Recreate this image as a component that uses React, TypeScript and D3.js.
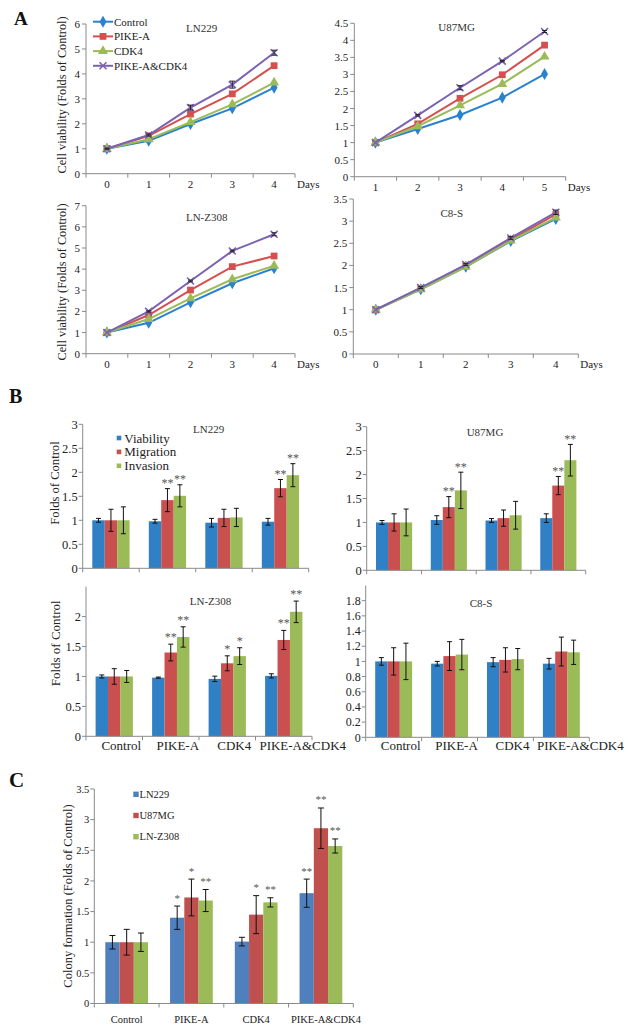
import React from 'react';
import * as d3 from 'd3';

const FONT = '"Liberation Serif","Times New Roman",serif';

// ---------- Panel A : cell viability time courses ----------
const daysA = ['0', '1', '2', '3', '4'];
const daysU87 = ['1', '2', '3', '4', '5'];
const lineSeriesNames = ['Control', 'PIKE-A', 'CDK4', 'PIKE-A&CDK4'];

const ln229Control = [1, 1.32, 1.99, 2.62, 3.45];
const ln229PikeA = [1, 1.52, 2.39, 3.2, 4.33];
const ln229CDK4 = [1, 1.38, 2.07, 2.78, 3.65];
const ln229Both = [1, 1.55, 2.65, 3.57, 4.85];
const ln229BothErr = [0.02, 0.04, 0.1, 0.14, 0.1];

const u87Control = [1, 1.4, 1.81, 2.32, 3.01];
const u87PikeA = [1, 1.55, 2.3, 2.99, 3.86];
const u87CDK4 = [1, 1.48, 2.09, 2.72, 3.52];
const u87Both = [1, 1.8, 2.61, 3.39, 4.26];
const u87BothErr = [0, 0.02, 0.06, 0.02, 0.03];

const lnzControl = [1, 1.46, 2.43, 3.33, 4.04];
const lnzPikeA = [1, 1.83, 3.01, 4.12, 4.62];
const lnzCDK4 = [1, 1.64, 2.62, 3.52, 4.16];
const lnzBoth = [1, 2.0, 3.44, 4.86, 5.65];
const lnzBothErr = [0, 0.03, 0.04, 0.04, 0.07];

const c8sControl = [1, 1.46, 1.97, 2.55, 3.05];
const c8sPikeA = [1, 1.48, 2.0, 2.58, 3.15];
const c8sCDK4 = [1, 1.46, 1.97, 2.56, 3.08];
const c8sBoth = [1, 1.5, 2.02, 2.62, 3.2];
const c8sBothErr = [0, 0.02, 0.02, 0.03, 0.05];

// ---------- Panel B : viability / migration / invasion ----------
const groupsB = ['Control', 'PIKE-A', 'CDK4', 'PIKE-A&CDK4'];
const measuresB = ['Viability', 'Migration', 'Invasion'];

const bLn229Viab = [1, 0.98, 0.95, 0.97];
const bLn229ViabErr = [0.04, 0.04, 0.09, 0.07];
const bLn229Migr = [1, 1.42, 1.05, 1.67];
const bLn229MigrErr = [0.23, 0.24, 0.18, 0.18];
const bLn229Inv = [1, 1.51, 1.06, 1.94];
const bLn229InvErr = [0.28, 0.23, 0.19, 0.24];
const bLn229MigrSig = ['', '**', '', '**'];
const bLn229InvSig = ['', '**', '', '**'];

const bU87Viab = [1, 1.05, 1.04, 1.09];
const bU87ViabErr = [0.04, 0.09, 0.04, 0.09];
const bU87Migr = [1, 1.32, 1.09, 1.77];
const bU87MigrErr = [0.18, 0.22, 0.17, 0.19];
const bU87Inv = [1, 1.67, 1.15, 2.3];
const bU87InvErr = [0.28, 0.38, 0.29, 0.33];
const bU87MigrSig = ['', '**', '', '**'];
const bU87InvSig = ['', '**', '', '**'];

const bLnzViab = [1, 0.98, 0.96, 1.01];
const bLnzViabErr = [0.025, 0.01, 0.045, 0.035];
const bLnzMigr = [1, 1.4, 1.22, 1.61];
const bLnzMigrErr = [0.13, 0.14, 0.125, 0.16];
const bLnzInv = [1, 1.66, 1.34, 2.08];
const bLnzInvErr = [0.1, 0.17, 0.14, 0.18];
const bLnzMigrSig = ['', '**', '*', '**'];
const bLnzInvSig = ['', '**', '*', '**'];

const bC8sViab = [1, 0.97, 0.99, 0.97];
const bC8sViabErr = [0.05, 0.03, 0.06, 0.07];
const bC8sMigr = [1, 1.07, 1.02, 1.13];
const bC8sMigrErr = [0.18, 0.19, 0.16, 0.19];
const bC8sInv = [1, 1.09, 1.03, 1.12];
const bC8sInvErr = [0.24, 0.2, 0.14, 0.16];

// ---------- Panel C : colony formation ----------
const cellLinesC = ['LN229', 'U87MG', 'LN-Z308'];
const cLn229 = [1, 1.4, 1.01, 1.8];
const cLn229Err = [0.11, 0.19, 0.07, 0.23];
const cLn229Sig = ['', '*', '', '**'];
const cU87 = [1, 1.73, 1.45, 2.86];
const cU87Err = [0.21, 0.3, 0.31, 0.33];
const cU87Sig = ['', '*', '*', '**'];
const cLnz = [1, 1.68, 1.65, 2.57];
const cLnzErr = [0.15, 0.18, 0.075, 0.115];
const cLnzSig = ['', '**', '**', '**'];

// ---------- styles ----------
const lineColors = ['#2a82cf', '#d54f4e', '#9bbb59', '#7c62b2'];
const barColorsB = ['#2f80c4', '#c9504e', '#9bbb59'];
const barColorsC = ['#4f7fbd', '#c0504d', '#9bbb59'];
const axisColor = '#8a8a8a';
const fmt = d3.format('~g');

function Marker({ kind, x, y, color }: { kind: number; x: number; y: number; color: string }) {
  if (kind === 0) {
    return <path d={d3.symbol(d3.symbolDiamond, 42)()!} transform={`translate(${x},${y})`} fill={color} />;
  }
  if (kind === 1) {
    return <path d={d3.symbol(d3.symbolSquare, 46)()!} transform={`translate(${x},${y})`} fill={color} />;
  }
  if (kind === 2) {
    return <path d={d3.symbol(d3.symbolTriangle, 44)()!} transform={`translate(${x},${y})`} fill={color} />;
  }
  return (
    <path
      d="M-3.5,-3.5L3.5,3.5M-3.5,3.5L3.5,-3.5"
      transform={`translate(${x},${y})`}
      stroke={color}
      strokeWidth={1.6}
      fill="none"
    />
  );
}

type LineCfg = {
  cats: string[];
  series: number[][];
  errs: (number[] | null)[];
  yMax: number;
  yStep: number;
  xa: number;
  xb: number;
  yZero: number;
  yTop: number;
  title: string;
  titleX: number;
  titleY: number;
  yLabel?: { x: number; y: number };
  legend?: boolean;
};

function LinePanel({ cfg }: { cfg: LineCfg }) {
  const x = d3.scaleBand<string>().domain(cfg.cats).range([cfg.xa, cfg.xb]);
  const y = d3.scaleLinear().domain([0, cfg.yMax]).range([cfg.yZero, cfg.yTop]);
  const cx = (i: number) => (x(cfg.cats[i]) as number) + x.bandwidth() / 2;
  const ticks = d3.range(0, cfg.yMax + 1e-9, cfg.yStep);
  const line = d3
    .line<number>()
    .x((_, i) => cx(i))
    .y((v) => y(v));
  const bounds = [...cfg.cats.map((c) => x(c) as number), cfg.xb];
  return (
    <g fontFamily={FONT}>
      <line x1={cfg.xa} x2={cfg.xa} y1={cfg.yZero} y2={cfg.yTop} stroke={axisColor} />
      <line x1={cfg.xa} x2={cfg.xb} y1={cfg.yZero} y2={cfg.yZero} stroke={axisColor} />
      {ticks.map((t) => (
        <g key={t}>
          <line x1={cfg.xa - 4} x2={cfg.xa} y1={y(t)} y2={y(t)} stroke={axisColor} />
          <text x={cfg.xa - 6} y={y(t) + 4} textAnchor="end" fontSize={11} fill="#222">
            {fmt(t)}
          </text>
        </g>
      ))}
      {bounds.map((b, i) => (
        <line key={i} x1={b} x2={b} y1={cfg.yZero} y2={cfg.yZero + 4} stroke={axisColor} />
      ))}
      {cfg.cats.map((c, i) => (
        <text key={c} x={cx(i)} y={cfg.yZero + 14} textAnchor="middle" fontSize={11} fill="#222">
          {c}
        </text>
      ))}
      <text x={cfg.xb + 2} y={cfg.yZero + 14} fontSize={11} fill="#222">
        Days
      </text>
      <text x={cfg.titleX} y={cfg.titleY + 4} textAnchor="middle" fontSize={11} fill="#333">
        {cfg.title}
      </text>
      {cfg.yLabel && (
        <text
          transform={`translate(${cfg.yLabel.x},${cfg.yLabel.y}) rotate(-90)`}
          textAnchor="middle"
          dominantBaseline="central"
          fontSize={12.3}
          fill="#222"
        >
          Cell viability (Folds of Control)
        </text>
      )}
      {cfg.series.map((s, si) => (
        <g key={si}>
          <path d={line(s)!} fill="none" stroke={lineColors[si]} strokeWidth={2} />
          {s.map((v, i) => (
            <Marker key={i} kind={si} x={cx(i)} y={y(v)} color={lineColors[si]} />
          ))}
          {cfg.errs[si] &&
            s.map((v, i) => {
              const e = (cfg.errs[si] as number[])[i];
              if (!e) return null;
              return (
                <g key={'e' + i} stroke="#222" strokeWidth={1}>
                  <line x1={cx(i)} x2={cx(i)} y1={y(v + e)} y2={y(v - e)} />
                  <line x1={cx(i) - 2.5} x2={cx(i) + 2.5} y1={y(v + e)} y2={y(v + e)} />
                  <line x1={cx(i) - 2.5} x2={cx(i) + 2.5} y1={y(v - e)} y2={y(v - e)} />
                </g>
              );
            })}
        </g>
      ))}
      {cfg.legend &&
        lineSeriesNames.map((n, i) => {
          const ly = 21.7 + i * 14.7;
          return (
            <g key={n}>
              <line x1={93} x2={113} y1={ly} y2={ly} stroke={lineColors[i]} strokeWidth={2} />
              <Marker kind={i} x={103} y={ly} color={lineColors[i]} />
              <text x={114} y={ly + 4} fontSize={11} fill="#222">
                {n}
              </text>
            </g>
          );
        })}
    </g>
  );
}

type BarSeries = { values: number[]; errs: number[]; sig?: string[]; color: string };
type BarCfg = {
  groups: string[];
  keys: string[];
  series: BarSeries[];
  yMax: number;
  yStep: number;
  tickMax: number;
  xa: number;
  xb: number;
  yZero: number;
  yTop: number;
  tickFont: number;
  catFont: number;
  showCats: boolean;
  catDx: number;
  lastCatDx: number;
  catY: number;
  starFont: number;
  starGap: number;
  cap: number;
  title?: { text: string; x: number; y: number };
  yLabel?: { text: string; x: number; y: number; size: number };
};

function BarPanel({ cfg }: { cfg: BarCfg }) {
  const x0 = d3.scaleBand<string>().domain(cfg.groups).range([cfg.xa, cfg.xb]).paddingInner(0.34).paddingOuter(0.17);
  const x1 = d3.scaleBand<string>().domain(cfg.keys).range([0, x0.bandwidth()]);
  const y = d3.scaleLinear().domain([0, cfg.yMax]).range([cfg.yZero, cfg.yTop]);
  const ticks = d3.range(0, cfg.tickMax + 1e-9, cfg.yStep);
  const step = (cfg.xb - cfg.xa) / cfg.groups.length;
  const bounds = d3.range(cfg.groups.length + 1).map((i) => cfg.xa + i * step);
  return (
    <g fontFamily={FONT}>
      {cfg.series.map((s, si) =>
        s.values.map((v, gi) => {
          const bx = (x0(cfg.groups[gi]) as number) + (x1(cfg.keys[si]) as number);
          return (
            <rect
              key={si + '-' + gi}
              x={bx}
              y={y(v)}
              width={x1.bandwidth()}
              height={cfg.yZero - y(v)}
              fill={s.color}
            />
          );
        })
      )}
      {cfg.series.map((s, si) =>
        s.values.map((v, gi) => {
          const c = (x0(cfg.groups[gi]) as number) + (x1(cfg.keys[si]) as number) + x1.bandwidth() / 2;
          const e = s.errs[gi];
          const top = y(v + e);
          return (
            <g key={'e' + si + '-' + gi}>
              <g stroke="#111" strokeWidth={1}>
                <line x1={c} x2={c} y1={top} y2={y(v - e)} />
                <line x1={c - cfg.cap} x2={c + cfg.cap} y1={top} y2={top} />
                <line x1={c - cfg.cap} x2={c + cfg.cap} y1={y(v - e)} y2={y(v - e)} />
              </g>
              {s.sig && s.sig[gi] && (
                <text
                  x={c}
                  y={top - cfg.starGap}
                  textAnchor="middle"
                  fontSize={cfg.starFont}
                  fill="#555"
                >
                  {s.sig[gi]}
                </text>
              )}
            </g>
          );
        })
      )}
      <line x1={cfg.xa} x2={cfg.xa} y1={cfg.yZero} y2={y(cfg.yMax)} stroke={axisColor} />
      <line x1={cfg.xa} x2={cfg.xb} y1={cfg.yZero} y2={cfg.yZero} stroke={axisColor} />
      {ticks.map((t) => (
        <g key={t}>
          <line x1={cfg.xa - 4} x2={cfg.xa} y1={y(t)} y2={y(t)} stroke={axisColor} />
          <text x={cfg.xa - 5} y={y(t) + cfg.tickFont * 0.35} textAnchor="end" fontSize={cfg.tickFont} fill="#222">
            {fmt(+t.toFixed(2))}
          </text>
        </g>
      ))}
      {bounds.map((b, i) => (
        <line key={i} x1={b} x2={b} y1={cfg.yZero} y2={cfg.yZero + 4} stroke={axisColor} />
      ))}
      {cfg.showCats &&
        cfg.groups.map((g, gi) => (
          <text
            key={g}
            x={
              (x0(g) as number) +
              x0.bandwidth() / 2 +
              cfg.catDx +
              (gi === cfg.groups.length - 1 ? cfg.lastCatDx : 0)
            }
            y={cfg.catY}
            textAnchor="middle"
            fontSize={cfg.catFont}
            fill="#222"
          >
            {g}
          </text>
        ))}
      {cfg.title && (
        <text x={cfg.title.x} y={cfg.title.y + 4} textAnchor="middle" fontSize={11} fill="#333">
          {cfg.title.text}
        </text>
      )}
      {cfg.yLabel && (
        <text
          transform={`translate(${cfg.yLabel.x},${cfg.yLabel.y}) rotate(-90)`}
          textAnchor="middle"
          dominantBaseline="central"
          fontSize={cfg.yLabel.size}
          fill="#222"
        >
          {cfg.yLabel.text}
        </text>
      )}
    </g>
  );
}

export default function App() {
  const A1: LineCfg = {
    cats: daysA,
    series: [ln229Control, ln229PikeA, ln229CDK4, ln229Both],
    errs: [null, null, null, ln229BothErr],
    yMax: 6, yStep: 1, xa: 86, xb: 295, yZero: 173.7, yTop: 24,
    title: 'LN229', titleX: 201.7, titleY: 28, yLabel: { x: 62, y: 95 }, legend: true,
  };
  const A2: LineCfg = {
    cats: daysU87,
    series: [u87Control, u87PikeA, u87CDK4, u87Both],
    errs: [null, null, null, u87BothErr],
    yMax: 4.5, yStep: 0.5, xa: 354.3, xb: 565.7, yZero: 176.7, yTop: 23.3,
    title: 'U87MG', titleX: 456.7, titleY: 26.7,
  };
  const A3: LineCfg = {
    cats: daysA,
    series: [lnzControl, lnzPikeA, lnzCDK4, lnzBoth],
    errs: [null, null, null, lnzBothErr],
    yMax: 7, yStep: 1, xa: 86, xb: 295, yZero: 353.7, yTop: 205.7,
    title: 'LN-Z308', titleX: 206.7, titleY: 216.7, yLabel: { x: 62, y: 282 },
  };
  const A4: LineCfg = {
    cats: daysA,
    series: [c8sControl, c8sPikeA, c8sCDK4, c8sBoth],
    errs: [null, null, null, c8sBothErr],
    yMax: 3.5, yStep: 0.5, xa: 353.3, xb: 578.3, yZero: 354, yTop: 199,
    title: 'C8-S', titleX: 451.7, titleY: 213.3,
  };

  const bCommon = {
    groups: groupsB, keys: measuresB, tickFont: 12.5, catFont: 13, catDx: 7, lastCatDx: 12, catY: 750,
    starFont: 12, starGap: 1.5, cap: 2.5,
  };
  const B1: BarCfg = {
    ...bCommon,
    series: [
      { values: bLn229Viab, errs: bLn229ViabErr, color: barColorsB[0] },
      { values: bLn229Migr, errs: bLn229MigrErr, sig: bLn229MigrSig, color: barColorsB[1] },
      { values: bLn229Inv, errs: bLn229InvErr, sig: bLn229InvSig, color: barColorsB[2] },
    ],
    yMax: 3, yStep: 0.5, tickMax: 3, xa: 82.7, xb: 308.7, yZero: 568.3, yTop: 424.3, showCats: false,
    title: { text: 'LN229', x: 208.7, y: 429.3 },
    yLabel: { text: 'Folds of Control', x: 55, y: 483, size: 12.6 },
  };
  const B2: BarCfg = {
    ...bCommon,
    series: [
      { values: bU87Viab, errs: bU87ViabErr, color: barColorsB[0] },
      { values: bU87Migr, errs: bU87MigrErr, sig: bU87MigrSig, color: barColorsB[1] },
      { values: bU87Inv, errs: bU87InvErr, sig: bU87InvSig, color: barColorsB[2] },
    ],
    yMax: 3, yStep: 0.5, tickMax: 3, xa: 366.7, xb: 585.7, yZero: 570.3, yTop: 426.7, showCats: false,
    title: { text: 'U87MG', x: 485, y: 431.7 },
  };
  const B3: BarCfg = {
    ...bCommon,
    series: [
      { values: bLnzViab, errs: bLnzViabErr, color: barColorsB[0] },
      { values: bLnzMigr, errs: bLnzMigrErr, sig: bLnzMigrSig, color: barColorsB[1] },
      { values: bLnzInv, errs: bLnzInvErr, sig: bLnzInvSig, color: barColorsB[2] },
    ],
    yMax: 2.5, yStep: 0.5, tickMax: 2, xa: 86, xb: 312, yZero: 736.3, yTop: 586.7, showCats: true,
    starGap: 3,
    title: { text: 'LN-Z308', x: 210.5, y: 600.7 },
    yLabel: { text: 'Folds of Control', x: 55, y: 643.3, size: 13 },
  };
  const B4: BarCfg = {
    ...bCommon,
    series: [
      { values: bC8sViab, errs: bC8sViabErr, color: barColorsB[0] },
      { values: bC8sMigr, errs: bC8sMigrErr, color: barColorsB[1] },
      { values: bC8sInv, errs: bC8sInvErr, color: barColorsB[2] },
    ],
    yMax: 2, yStep: 0.2, tickMax: 1.8, xa: 365.7, xb: 589.3, yZero: 737.3, yTop: 585.5, showCats: true,
    tickFont: 12,
    title: { text: 'C8-S', x: 481, y: 603.3 },
  };
  const C: BarCfg = {
    groups: groupsB, keys: cellLinesC, tickFont: 10.5, catFont: 10.5, catDx: 0, lastCatDx: 5, catY: 1022.5,
    starFont: 11, starGap: 4.5, cap: 3,
    series: [
      { values: cLn229, errs: cLn229Err, sig: cLn229Sig, color: barColorsC[0] },
      { values: cU87, errs: cU87Err, sig: cU87Sig, color: barColorsC[1] },
      { values: cLnz, errs: cLnzErr, sig: cLnzSig, color: barColorsC[2] },
    ],
    yMax: 3.5, yStep: 0.5, tickMax: 3.5, xa: 94.3, xb: 353.3, yZero: 1003.5, yTop: 789, showCats: true,
    yLabel: { text: 'Colony formation (Folds of Control)', x: 68, y: 896, size: 12.5 },
  };

  return (
    <svg
      width={632}
      height={1032}
      viewBox="0 0 632 1032"
      style={{ position: 'absolute', left: 0, top: 0, background: '#fff' }}
    >
      <rect x={0} y={0} width={632} height={1032} fill="#fff" />
      <g fontFamily={FONT} fontWeight="bold" fill="#111">
        <text x={14} y={25} fontSize={19}>A</text>
        <text x={9} y={403} fontSize={20}>B</text>
        <text x={9} y={787} fontSize={21}>C</text>
      </g>
      <LinePanel cfg={A1} />
      <LinePanel cfg={A2} />
      <LinePanel cfg={A3} />
      <LinePanel cfg={A4} />
      <BarPanel cfg={B1} />
      <BarPanel cfg={B2} />
      <BarPanel cfg={B3} />
      <BarPanel cfg={B4} />
      <BarPanel cfg={C} />
      <g fontFamily={FONT}>
        {measuresB.map((m, i) => {
          const ly = 438 + i * 13.9;
          return (
            <g key={m}>
              <rect x={116.7} y={ly - 2.3} width={4.6} height={4.6} fill={barColorsB[i]} />
              <text x={124.3} y={ly + 4.5} fontSize={13} fill="#222">{m}</text>
            </g>
          );
        })}
        {cellLinesC.map((m, i) => {
          const ly = 794.3 + i * 21.2;
          return (
            <g key={m}>
              <rect x={133.3} y={ly - 2.7} width={5.4} height={5.4} fill={barColorsC[i]} />
              <text x={139.5} y={ly + 3.7} fontSize={10.5} fill="#222">{m}</text>
            </g>
          );
        })}
      </g>
    </svg>
  );
}
